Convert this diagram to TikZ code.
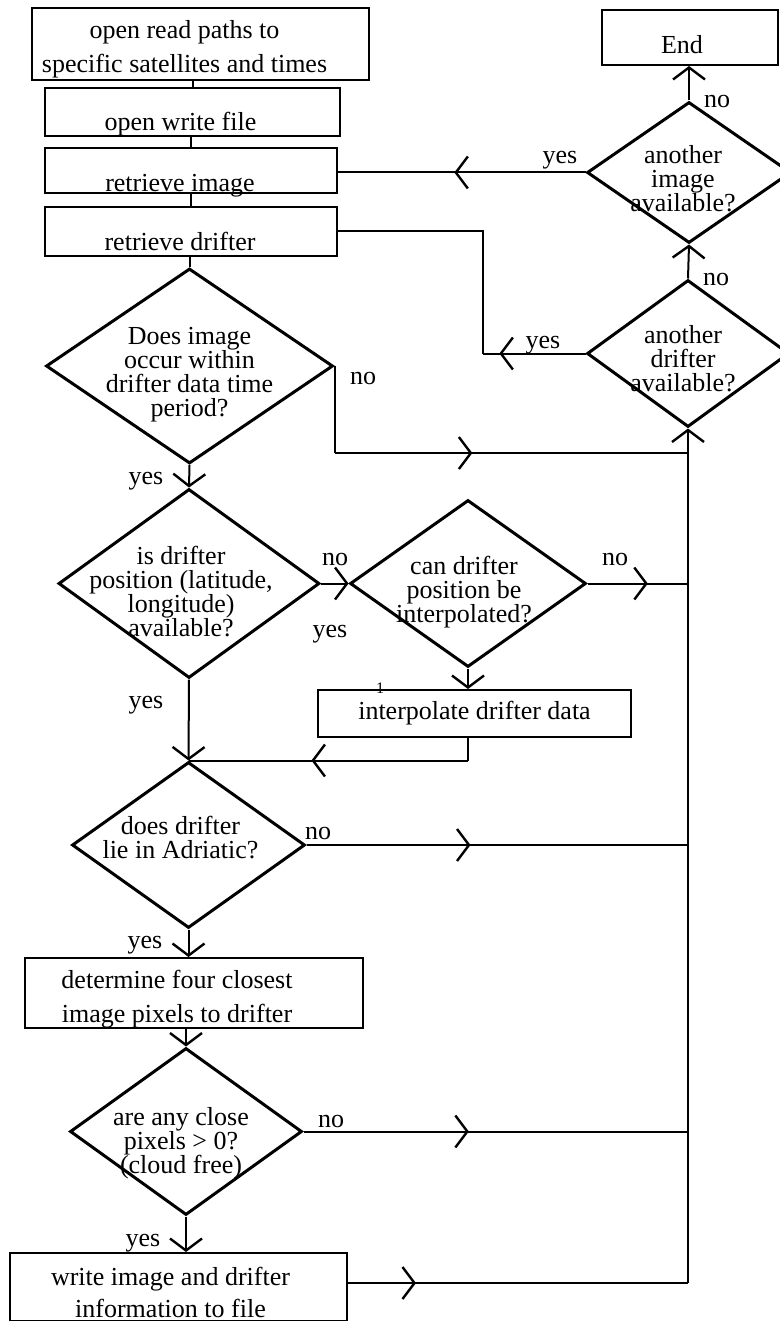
\documentclass[tikz,border=0pt]{standalone}
\usepackage{fontspec}
\setmainfont{Liberation Serif}
\usetikzlibrary{shapes.geometric,arrows.meta,decorations.markings}

\tikzset{
  box/.style={draw, line width=1pt, rectangle, inner sep=0pt},
  dia/.style={draw, line width=1.5pt, diamond, inner sep=0pt},
  txt/.style={align=center, inner sep=0pt, font=\fontsize{13}{#1}\selectfont},
  txt/.default=12,
  lbl/.style={inner sep=0pt, font=\fontsize{13}{13}\selectfont},
  line/.style={line width=1pt},
  tip/.style={-{Straight Barb[length=6pt,width=16pt,line width=1.2pt]}},
  arr at/.style={postaction={decorate}, decoration={markings,
      mark=at position #1 with {\arrow{Straight Barb[length=6pt,width=16pt,line width=1.2pt]}}}},
}

\begin{document}
\begin{tikzpicture}[x=0.5pt, y=-0.5pt]
  \useasboundingbox (0,0) rectangle (780,1321);

  % --- Left column: boxes ---
  \node[box, minimum width=168.5pt, minimum height=36pt,
        label={[txt=17, xshift=-8pt, yshift=-2.5pt]center:{open read paths to\\specific satellites and times}}] (read) at (200.5,44) {};
  \node[box, minimum width=147.5pt, minimum height=24pt,
        label={[txt, xshift=-6pt, yshift=-6pt]center:open write file}] (write) at (192.5,112) {};
  \node[box, minimum width=146pt, minimum height=22.5pt,
        label={[txt, xshift=-5.5pt, yshift=-7.75pt]center:retrieve image}] (image) at (191,170.5) {};
  \node[box, minimum width=146pt, minimum height=24.5pt,
        label={[txt, xshift=-5.5pt, yshift=-4.75pt]center:retrieve drifter}] (drifter) at (191,231.5) {};

  % --- Left column: decisions ---
  \node[dia, minimum width=143.5pt, minimum height=97.5pt,
        label={[txt, yshift=-4.5pt]center:{Does image\\occur within\\drifter data time\\period?}}] (d1) at (189.5,366) {};
  \node[dia, minimum width=130.5pt, minimum height=94.5pt,
        label={[txt, xshift=-4pt, yshift=-3.9pt]center:{is drifter\\position (latitude,\\longitude)\\available?}}] (d2) at (189,583.5) {};
  \node[dia, minimum width=118pt, minimum height=83.5pt,
        label={[txt, xshift=-2pt, yshift=-4.5pt]center:{can drifter\\position be\\interpolated?}}] (d3) at (468,583.5) {};
  \node[box, minimum width=156.5pt, minimum height=23.5pt,
        label={[txt]center:interpolate drifter data}] (interp) at (474.5,713.5) {};
  \node[font=\fontsize{8}{8}\selectfont, inner sep=0pt] (one) at (380,688) {1};
  \node[dia, minimum width=116.5pt, minimum height=83pt,
        label={[txt, xshift=-4pt, yshift=3.5pt]center:{does drifter\\lie in Adriatic?}}] (d4) at (188.5,845) {};
  \node[box, minimum width=169pt, minimum height=35pt,
        label={[txt=17, xshift=-8.5pt, yshift=-3pt]center:{determine four closest\\image pixels to drifter}}] (closest) at (194,993) {};
  \node[dia, minimum width=116pt, minimum height=83.5pt,
        label={[txt, xshift=-2.5pt, yshift=-6pt]center:{are any close\\pixels > 0?\\(cloud free)}}] (d5) at (186,1131.5) {};
  \node[box, minimum width=168.5pt, minimum height=34pt,
        label={[txt=16, xshift=-4pt, yshift=-2.5pt]center:{write image and drifter\\information to file}}] (output) at (178.5,1287) {};

  % --- Right column ---
  \node[box, minimum width=88pt, minimum height=27.5pt,
        label={[txt, xshift=-4pt, yshift=-3.5pt]center:End}] (end) at (690,37.5) {};
  \node[dia, minimum width=102pt, minimum height=70.5pt,
        label={[txt, xshift=-3pt, yshift=-3.25pt]center:{another\\image\\available?}}] (d6) at (689,172.5) {};
  \node[dia, minimum width=101pt, minimum height=73.5pt,
        label={[txt, xshift=-2.5pt, yshift=-2.7pt]center:{another\\drifter\\available?}}] (d7) at (688,353.5) {};

  % bus joints on the right
  \coordinate (j1) at (688,453);
  \coordinate (j2) at (688,583.5);
  \coordinate (j3) at (688,845);
  \coordinate (j4) at (688,1131.5);
  \coordinate (j5) at (688,1283);
  \coordinate (k3) at (483,353.5);

  % --- Connectors, main column ---
  \draw[line] (write.north) -- (write.north |- read.south);
  \draw[line] (image.north) -- (image.north |- write.south);
  \draw[line] (drifter.north) -- (drifter.north |- image.south);
  \draw[line] (d1.north) -- (d1.north |- drifter.south);
  \draw[line, tip] (d1.south) -- (d2.north);
  \draw[line, tip] (d2.east) -- (d3.west);
  \draw[line, tip] (d3.south) -- (d3.south |- interp.north);
  \draw[line] (d3.south |- interp.south) -- (d3.south |- d4.north) coordinate (k2);
  \draw[line, arr at=0.56] (k2) -- (d4.north);
  \draw[line, tip] (d2.south) -- (d4.north);
  \draw[line, tip] (d4.south) -- (d4.south |- closest.north);
  \draw[line, tip] (d5.north |- closest.south) -- (d5.north);
  \draw[line, tip] (d5.south) -- (d5.south |- output.north);

  % --- Connectors to the bus ---
  \draw[line] (d1.east) -- (d1.east |- j1) coordinate (k1);
  \draw[line, arr at=0.39] (k1) -- (j1);
  \draw[line, arr at=0.6] (d3.east) -- (j2);
  \draw[line, arr at=0.43] (d4.east) -- (j3);
  \draw[line, arr at=0.43] (d5.east) -- (j4);
  \draw[line, arr at=0.2] (output.east |- j5) -- (j5);
  \draw[line, tip] (j5) -- (d7.south);

  % --- Loops back ---
  \draw[line, tip] (d7.north) -- (d6.south);
  \draw[line, tip] (d6.north) -- (d6.north |- end.south);
  \draw[line, arr at=0.53] (d6.west) -- (d6.west -| image.east);
  \draw[line, arr at=0.84] (d7.west) -- (k3);
  \draw[line] (k3) |- (drifter.east);

  % --- yes / no labels ---
  \node[lbl] (no1) at (717,102) {no};
  \node[lbl] (yes1) at (560,160) {yes};
  \node[lbl] (no2) at (716,280) {no};
  \node[lbl] (yes2) at (543,345) {yes};
  \node[lbl] (no3) at (363,378) {no};
  \node[lbl] (yes3) at (146,481) {yes};
  \node[lbl] (no4) at (335,559) {no};
  \node[lbl] (yes4) at (330,634) {yes};
  \node[lbl] (no5) at (615,559) {no};
  \node[lbl] (yes5) at (146,705) {yes};
  \node[lbl] (no6) at (318,833) {no};
  \node[lbl] (yes6) at (145,945) {yes};
  \node[lbl] (no7) at (331,1121) {no};
  \node[lbl] (yes7) at (143,1243) {yes};
\end{tikzpicture}
\end{document}
